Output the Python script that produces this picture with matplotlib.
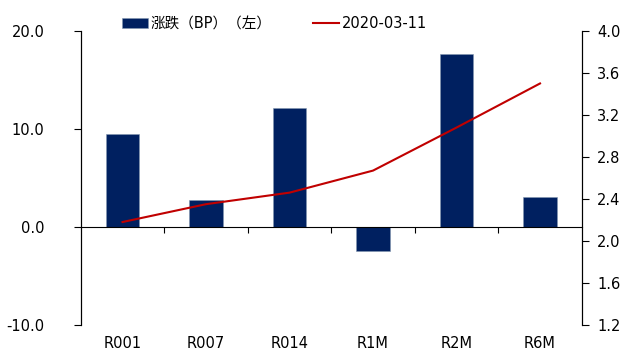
import numpy as np
import matplotlib
matplotlib.use("Agg")
import matplotlib.pyplot as plt
from matplotlib.ticker import FuncFormatter

plt.rcParams['font.family'] = ['DejaVu Sans', 'Noto Sans CJK SC']

terms = ["R001", "R007", "R014", "R1M", "R2M", "R6M"]
change_bp = [9.5, 2.7, 12.1, -2.5, 17.6, 3.1]
rate_0311 = [2.18, 2.35, 2.46, 2.67, 3.08, 3.50]

bar_color = "#002060"
line_color = "#C00000"

fig = plt.figure(figsize=(6.31, 3.52), dpi=100)
ax = fig.add_axes([0.128, 0.077, 0.794, 0.835])
ax2 = ax.twinx()

x = np.arange(len(terms))
bars = ax.bar(x, change_bp, width=0.4, color=bar_color, edgecolor="#8497b0",
              linewidth=0.4, label="涨跌（BP）（左）", zorder=2)
line, = ax2.plot(x, rate_0311, color=line_color, lw=1.5, label="2020-03-11")

ax.set_xlim(-0.5, len(terms) - 0.5)
ax.set_ylim(-10, 20)
ax.set_yticks([-10, 0, 10, 20])
ax2.set_ylim(1.2, 4.0)
ax2.set_yticks(np.arange(1.2, 4.01, 0.4))

fmt = FuncFormatter(lambda v, p: f"{v:.1f}")
ax.yaxis.set_major_formatter(fmt)
ax2.yaxis.set_major_formatter(fmt)

# category axis sits on the zero line, ticks between categories
for a in (ax, ax2):
    a.spines["top"].set_visible(False)
ax.spines["bottom"].set_position(("data", 0))
ax2.spines["bottom"].set_visible(False)
ax.set_xticks(np.arange(0.5, len(terms) - 1, 1.0))
ax.set_xticklabels([])
ax.tick_params(axis="x", direction="out", length=4, width=0.8)
ax.tick_params(axis="y", direction="out", length=5, width=0.8, labelsize=10.5, pad=21)
ax2.tick_params(axis="y", direction="out", length=5, width=0.8, labelsize=10.5, pad=6)

for i, name in enumerate(terms):
    ax.text(i, -0.062, name, transform=ax.get_xaxis_transform(),
            ha="center", va="center", fontsize=10.5)

fig.legend(handles=[bars, line], loc="center", bbox_to_anchor=(0.435, 0.932),
           ncol=2, frameon=False, fontsize=10.5, handlelength=1.8,
           handletextpad=0.2, columnspacing=2.8)

fig.savefig("out.png", dpi=100)
